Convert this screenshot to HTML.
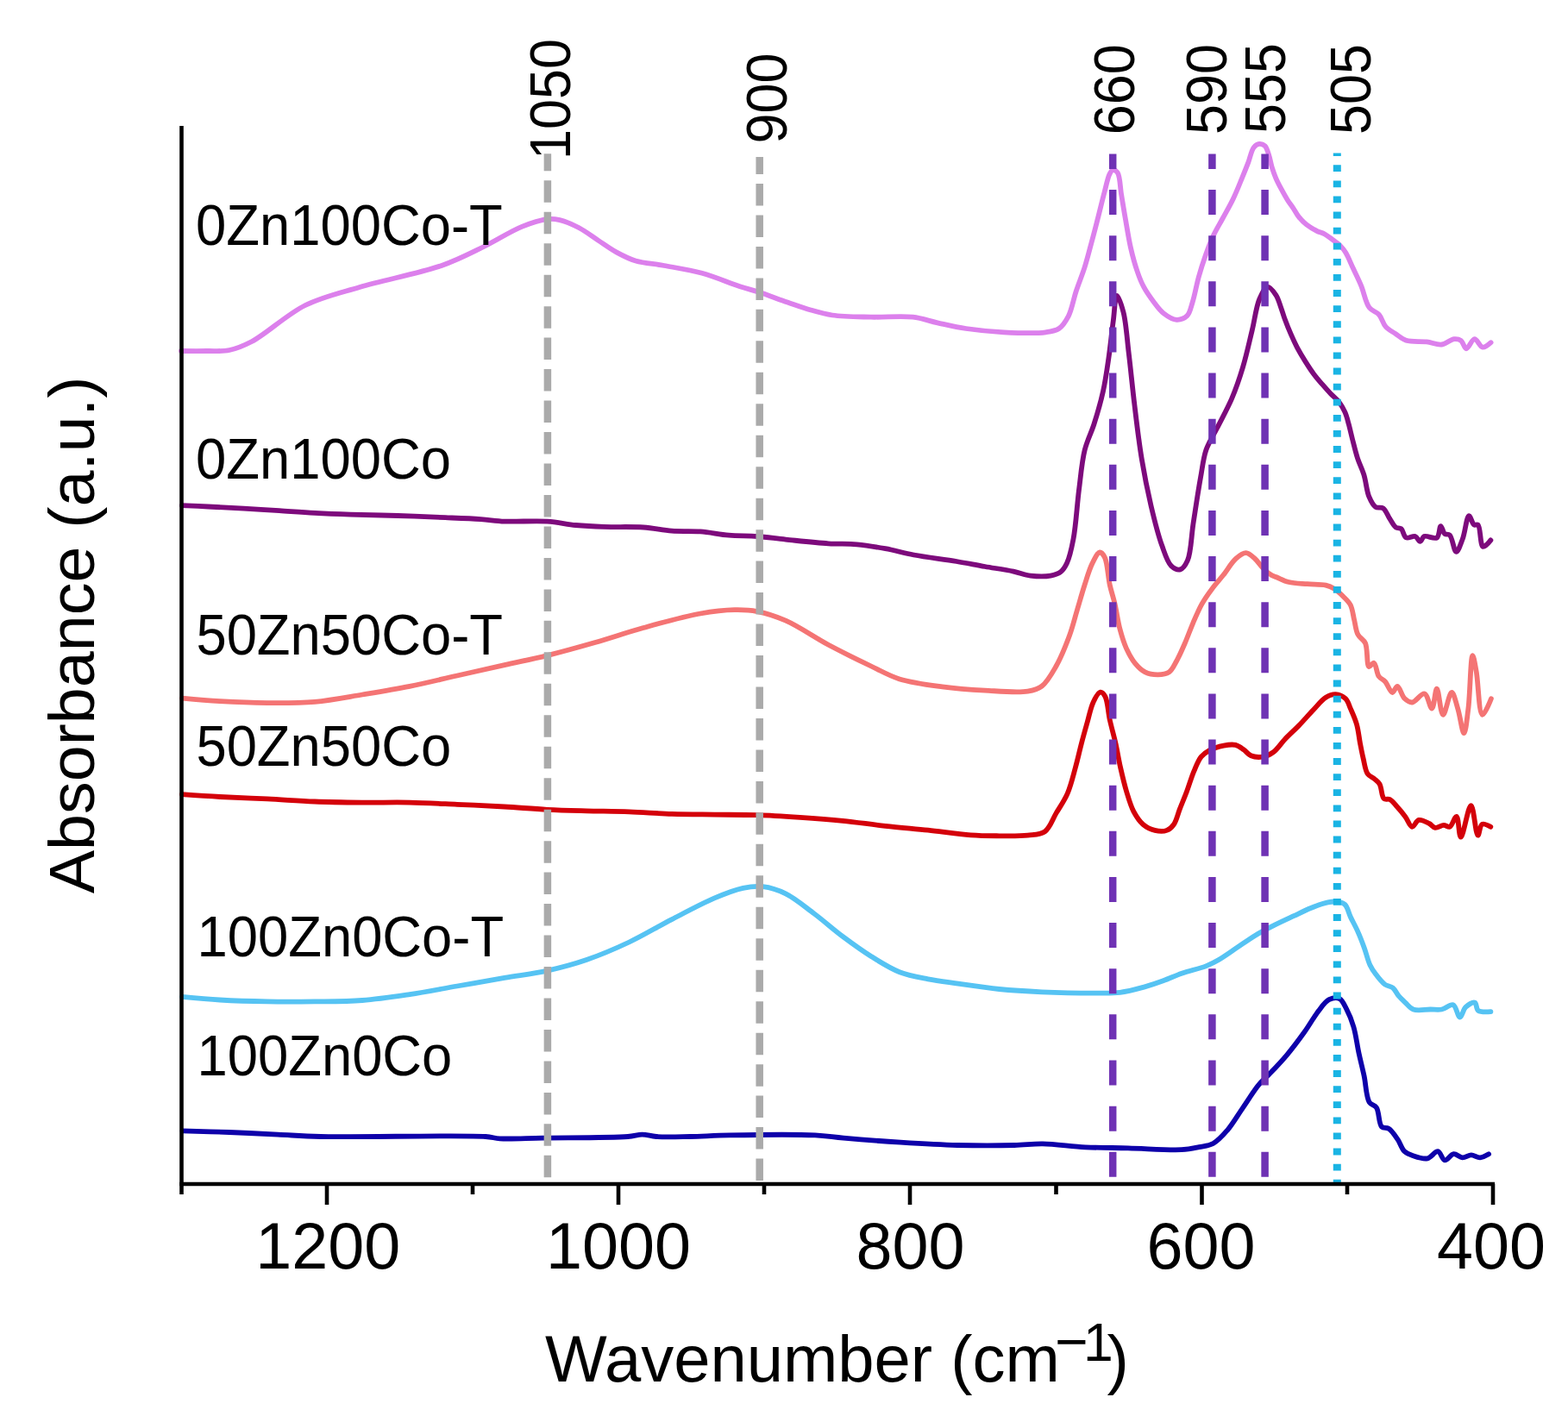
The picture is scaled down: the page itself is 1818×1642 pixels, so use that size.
<!DOCTYPE html>
<html><head><meta charset="utf-8"><title>FTIR spectra</title>
<style>html,body{margin:0;padding:0;background:#fff;width:1818px;height:1642px;overflow:hidden}svg{display:block}</style>
</head><body>
<svg width="1818" height="1642" viewBox="0 0 1818 1642">
<rect width="1818" height="1642" fill="#fff"/>
<g fill="none" stroke-width="5.8" stroke-linejoin="round" stroke-linecap="round">
<path stroke="#dc80ec" d="M210.0 407.0C210.0 407.0 230.4 407.2 240.0 407.0C249.0 406.8 257.5 407.8 266.0 406.0C274.8 404.2 281.8 401.3 292.0 396.0C308.7 387.3 332.5 364.6 354.0 354.0C374.3 344.0 393.7 339.9 417.0 333.0C445.3 324.6 485.8 317.2 512.0 308.0C531.3 301.2 545.2 293.7 561.0 286.0C576.2 278.6 591.5 268.4 605.0 262.9C615.6 258.6 626.5 255.0 634.7 254.1C640.3 253.5 643.8 254.0 649.0 255.2C655.7 256.7 663.8 260.3 671.0 264.0C678.5 267.9 685.7 273.5 693.0 278.3C700.3 283.1 707.5 288.5 715.0 292.6C722.2 296.5 728.7 300.0 737.0 302.5C746.7 305.4 758.2 305.8 770.0 308.0C783.6 310.5 799.5 312.8 814.0 316.8C828.8 320.9 845.8 328.2 858.0 332.2C866.6 335.0 872.0 336.2 880.0 338.8C889.9 342.0 902.5 346.9 913.0 350.5C922.4 353.7 931.1 357.0 940.0 359.5C948.4 361.9 955.4 364.1 965.0 365.5C977.7 367.3 994.7 367.3 1010.0 367.7C1025.8 368.1 1044.5 366.1 1058.4 367.7C1069.3 368.9 1077.1 372.2 1087.0 374.3C1097.6 376.6 1108.2 379.2 1120.0 381.0C1133.6 383.0 1149.0 384.6 1164.0 385.3C1179.7 386.1 1200.8 386.9 1212.4 385.3C1219.0 384.4 1223.5 383.9 1227.8 381.0C1232.4 377.9 1235.7 372.5 1238.8 366.6C1242.7 359.0 1244.5 347.5 1247.6 338.0C1250.7 328.6 1254.6 319.3 1257.6 309.9C1260.5 300.8 1262.7 291.8 1265.2 282.5C1267.8 273.0 1270.3 263.3 1272.8 253.5C1275.4 243.5 1278.0 232.2 1280.5 223.0C1282.6 215.3 1284.2 206.2 1286.5 201.8C1287.7 199.5 1288.8 197.5 1290.3 197.2C1291.8 196.9 1294.3 198.2 1295.7 200.2C1298.7 204.4 1298.7 217.3 1300.2 226.1C1301.7 235.1 1303.1 243.9 1304.8 253.5C1306.7 264.1 1308.5 276.4 1310.9 287.0C1313.1 296.6 1315.7 306.3 1318.5 314.4C1320.8 321.2 1322.9 326.8 1326.1 332.7C1329.4 339.0 1334.2 345.6 1338.3 351.0C1341.8 355.6 1344.7 359.9 1349.0 363.2C1353.4 366.6 1359.4 370.6 1364.2 370.8C1368.4 371.0 1373.4 369.1 1376.4 366.2C1379.8 362.9 1380.6 357.0 1382.5 351.0C1385.2 342.7 1387.3 330.0 1390.0 320.5C1392.4 311.9 1394.9 304.1 1397.7 296.2C1400.5 288.4 1403.4 280.6 1406.8 273.3C1410.0 266.4 1413.8 260.3 1417.5 253.5C1421.4 246.2 1426.0 238.5 1429.7 230.7C1433.5 222.9 1436.9 214.1 1440.0 206.6C1442.7 200.1 1445.0 194.4 1447.3 188.4C1449.5 182.6 1450.8 174.6 1453.7 171.0C1455.5 168.7 1457.9 167.1 1460.1 166.9C1462.2 166.7 1464.8 167.6 1466.5 169.2C1468.7 171.2 1469.7 175.5 1471.0 179.2C1472.5 183.5 1473.3 189.1 1474.7 193.8C1476.1 198.2 1477.5 202.4 1479.3 206.6C1481.1 210.9 1483.4 215.2 1485.7 219.4C1488.0 223.7 1490.6 228.3 1493.0 232.2C1495.1 235.5 1497.3 238.2 1499.4 241.3C1501.6 244.6 1503.3 248.3 1505.8 251.4C1508.4 254.7 1511.5 257.8 1514.9 260.5C1518.5 263.3 1523.0 265.9 1526.8 267.8C1530.0 269.4 1533.0 269.9 1535.9 271.5C1539.0 273.2 1542.0 275.7 1545.0 277.9C1548.1 280.2 1551.6 282.6 1554.2 285.2C1556.5 287.5 1558.1 289.4 1560.0 292.5C1562.9 297.1 1565.8 304.5 1568.7 310.8C1571.8 317.5 1575.2 324.1 1578.2 331.4C1581.5 339.4 1583.3 351.1 1587.7 356.8C1590.8 360.8 1595.7 361.3 1598.8 364.7C1602.2 368.5 1603.3 375.1 1606.7 378.9C1609.8 382.4 1613.9 384.3 1617.8 386.9C1621.8 389.6 1625.3 393.1 1630.4 394.8C1636.9 396.9 1646.9 395.5 1654.2 396.4C1660.5 397.2 1666.2 400.2 1671.6 399.5C1676.7 398.9 1681.8 393.6 1685.9 393.2C1688.9 392.9 1691.6 393.3 1693.8 394.8C1696.5 396.6 1697.7 404.2 1700.1 404.3C1702.8 404.5 1706.4 393.3 1709.6 393.2C1712.7 393.1 1715.8 402.3 1719.1 402.7C1722.1 403.1 1728.6 397.2 1728.6 397.2"/>
<path stroke="#7d0a7c" d="M211.0 586.1C211.0 586.1 230.4 587.0 241.3 587.5C254.0 588.1 268.8 588.9 282.5 589.7C296.3 590.5 310.0 591.3 323.8 592.2C337.5 593.1 351.3 594.2 365.0 594.9C378.8 595.6 391.5 596.1 406.3 596.6C423.3 597.2 443.0 597.4 461.3 598.0C479.6 598.6 499.3 599.5 516.3 600.2C531.0 600.8 545.2 601.3 557.5 602.1C567.6 602.8 574.5 604.1 585.0 604.6C599.1 605.2 619.7 603.6 634.5 604.6C646.6 605.4 656.5 607.9 667.5 609.0C678.4 610.0 688.2 610.5 700.0 610.9C714.0 611.4 732.0 610.5 746.0 611.5C757.9 612.3 768.0 614.9 779.0 615.7C790.0 616.5 801.0 615.6 812.0 616.4C823.0 617.2 834.0 619.8 845.0 620.7C856.0 621.6 867.0 621.2 878.0 622.0C889.0 622.8 898.9 624.4 911.0 625.6C925.8 627.1 945.7 629.4 960.5 630.3C972.6 631.1 982.5 630.3 993.5 631.3C1004.5 632.3 1015.5 634.2 1026.5 636.2C1037.5 638.2 1047.3 641.2 1059.5 643.5C1074.3 646.3 1094.2 648.5 1109.0 651.0C1121.1 653.0 1131.0 655.1 1142.0 657.0C1153.0 658.9 1165.4 660.6 1175.0 662.6C1182.5 664.2 1187.9 666.7 1194.8 667.6C1202.2 668.5 1211.6 668.8 1218.0 667.6C1222.7 666.7 1226.8 665.5 1230.0 663.0C1233.1 660.6 1234.9 657.4 1237.0 653.0C1240.2 646.2 1242.4 636.1 1244.5 625.0C1247.5 609.4 1248.7 586.0 1251.0 568.0C1253.1 551.8 1254.3 535.4 1257.7 521.8C1260.5 510.6 1265.0 502.6 1268.4 492.0C1272.2 480.1 1276.2 466.5 1279.0 453.6C1281.8 440.9 1283.5 428.4 1285.4 415.3C1287.4 401.5 1289.0 385.5 1290.7 372.6C1292.2 361.8 1292.7 343.1 1295.0 342.8C1296.9 342.6 1300.4 354.0 1302.5 362.0C1305.7 374.4 1306.8 394.0 1308.9 411.0C1311.1 429.4 1312.9 448.8 1315.3 468.5C1317.8 489.3 1320.4 512.2 1323.8 532.5C1326.9 551.1 1330.4 568.7 1334.4 585.8C1338.2 602.0 1342.6 619.8 1347.2 632.6C1350.6 641.9 1353.3 651.7 1357.9 656.1C1361.0 659.0 1365.4 661.2 1368.5 660.4C1371.9 659.5 1374.7 654.9 1377.0 649.7C1381.0 640.5 1381.2 622.1 1383.5 607.1C1386.1 590.3 1389.2 569.3 1392.0 553.8C1394.2 541.8 1395.0 531.7 1398.4 521.8C1401.6 512.6 1406.6 505.4 1411.2 496.3C1416.5 485.7 1423.2 473.8 1428.2 462.1C1433.2 450.4 1437.2 438.6 1441.0 425.9C1445.1 412.4 1448.4 396.9 1451.7 383.3C1454.8 370.7 1456.3 356.1 1460.2 347.0C1462.9 340.8 1466.3 333.1 1469.7 332.7C1472.8 332.4 1476.9 338.5 1479.5 342.4C1482.2 346.5 1483.6 352.4 1485.3 357.0C1486.8 361.1 1487.6 364.3 1489.2 368.7C1491.3 374.4 1494.4 382.2 1497.0 388.2C1499.3 393.5 1501.3 397.8 1503.9 402.8C1506.8 408.2 1510.3 414.1 1513.6 419.4C1516.8 424.5 1520.0 429.5 1523.4 434.0C1526.5 438.2 1529.8 441.9 1533.1 445.7C1536.3 449.4 1539.5 453.0 1542.8 456.5C1546.0 459.9 1549.8 462.6 1552.6 466.2C1555.3 469.8 1557.6 473.8 1559.4 477.9C1561.3 482.1 1562.3 486.5 1563.6 491.3C1565.1 496.8 1566.4 502.8 1568.0 509.1C1569.8 516.1 1571.7 524.3 1574.0 531.4C1576.2 538.1 1579.3 543.8 1581.4 550.7C1583.8 558.5 1584.5 569.2 1587.3 575.9C1589.4 580.8 1591.6 585.7 1594.8 587.8C1597.3 589.5 1601.2 587.6 1603.7 589.3C1606.8 591.4 1608.6 597.4 1611.1 601.2C1613.5 604.8 1615.8 609.8 1618.5 611.6C1620.4 612.9 1622.7 611.8 1624.5 613.1C1626.9 615.0 1627.5 622.1 1630.4 623.5C1633.1 624.8 1638.0 621.1 1640.8 622.0C1643.3 622.8 1644.9 628.0 1646.7 627.9C1648.4 627.8 1648.9 623.0 1651.2 622.0C1654.5 620.6 1662.8 625.6 1666.0 623.5C1669.1 621.5 1668.8 610.2 1670.5 610.1C1671.9 610.0 1672.9 617.3 1675.0 619.0C1676.6 620.3 1679.2 618.9 1680.9 620.5C1684.1 623.4 1685.7 639.7 1688.3 639.8C1690.7 639.9 1693.6 630.8 1695.8 625.0C1698.7 617.5 1700.4 598.5 1703.2 598.2C1705.0 598.0 1706.8 607.3 1709.1 608.6C1710.5 609.4 1712.3 607.6 1713.6 608.6C1716.7 611.1 1716.1 632.8 1719.5 633.9C1721.8 634.7 1728.4 626.4 1728.4 626.4"/>
<path stroke="#f47474" d="M211.0 809.6C211.0 809.6 239.5 812.3 255.0 813.2C272.3 814.2 291.7 815.0 310.0 815.1C328.3 815.2 346.7 815.4 365.0 813.8C383.4 812.2 401.7 808.5 420.0 805.5C438.4 802.5 456.7 799.6 475.0 795.9C493.4 792.2 511.7 787.6 530.0 783.5C548.3 779.4 567.1 775.1 585.0 771.1C601.9 767.3 617.6 764.3 634.5 760.1C652.5 755.6 671.5 750.3 690.0 745.0C708.7 739.6 726.5 733.4 746.0 728.0C767.0 722.2 792.7 714.9 812.0 711.5C826.8 708.9 839.7 707.4 851.6 707.2C861.3 707.0 868.8 707.3 878.0 709.1C888.5 711.1 899.2 714.5 911.0 719.7C926.1 726.3 943.9 738.9 960.5 747.8C976.9 756.5 995.1 765.4 1010.0 772.5C1022.1 778.2 1030.6 783.6 1043.0 787.4C1057.6 791.9 1075.9 794.1 1092.5 796.3C1109.0 798.5 1125.5 799.7 1142.0 800.6C1158.5 801.5 1179.7 803.6 1191.6 801.6C1198.7 800.4 1203.0 799.4 1208.0 795.6C1214.3 790.8 1219.5 781.3 1224.5 772.5C1230.3 762.2 1235.8 748.4 1240.0 737.0C1243.7 726.9 1245.9 717.5 1248.8 707.7C1251.7 698.0 1254.5 687.8 1257.5 678.5C1260.3 669.8 1262.9 660.4 1266.3 653.6C1268.9 648.3 1272.3 640.8 1275.1 640.5C1277.1 640.3 1279.3 643.2 1280.9 646.3C1284.1 652.5 1284.6 668.8 1286.8 678.5C1288.6 686.5 1290.8 692.5 1292.6 700.4C1294.7 709.4 1296.1 720.6 1298.5 729.6C1300.6 737.5 1302.7 744.8 1305.8 751.6C1308.7 757.9 1312.0 764.3 1316.0 769.1C1319.5 773.3 1323.3 777.2 1327.7 779.4C1332.0 781.5 1337.6 782.3 1342.3 782.3C1346.8 782.3 1351.9 781.9 1355.5 779.4C1359.4 776.7 1361.4 771.3 1364.3 766.2C1367.8 759.9 1371.3 751.7 1374.5 744.3C1377.6 737.0 1380.2 729.6 1383.3 722.3C1386.5 714.9 1389.7 707.2 1393.5 700.4C1397.0 694.1 1401.0 688.5 1405.2 682.9C1409.3 677.3 1413.9 672.4 1418.4 666.8C1423.2 660.8 1427.9 652.2 1433.0 647.8C1436.8 644.5 1441.0 641.1 1444.7 641.2C1448.3 641.3 1451.7 645.0 1454.9 647.8C1458.5 651.0 1461.7 656.2 1465.1 659.5C1468.0 662.4 1471.1 665.1 1473.9 666.8C1476.0 668.1 1477.5 668.3 1480.0 669.3C1483.8 670.8 1488.9 673.7 1494.3 675.0C1500.6 676.6 1508.6 676.6 1515.8 677.2C1522.9 677.8 1531.5 677.2 1537.2 678.6C1541.3 679.6 1544.0 680.9 1547.2 682.9C1550.7 685.1 1554.1 688.4 1557.2 691.5C1560.3 694.6 1563.7 697.4 1565.8 701.5C1568.2 706.2 1568.7 712.9 1570.1 718.6C1571.5 724.3 1572.0 731.1 1574.4 735.8C1576.5 739.9 1580.9 741.3 1583.0 745.8C1586.0 752.4 1584.3 771.8 1587.3 773.0C1588.8 773.6 1591.4 768.2 1593.0 768.7C1595.5 769.4 1596.0 780.7 1598.7 784.4C1600.7 787.2 1603.6 787.7 1605.9 790.2C1608.9 793.5 1611.8 802.9 1614.4 803.0C1616.4 803.1 1618.2 795.8 1620.2 795.9C1622.9 796.1 1625.3 807.1 1628.7 810.2C1631.3 812.6 1634.1 814.7 1637.3 814.5C1641.5 814.2 1647.8 803.5 1651.6 804.5C1655.6 805.5 1657.9 821.9 1660.2 821.6C1662.8 821.3 1663.9 798.7 1665.9 798.7C1668.2 798.7 1670.1 828.6 1673.1 828.8C1675.9 829.0 1680.1 803.0 1683.1 803.0C1685.7 803.0 1688.0 814.7 1690.2 821.6C1692.9 830.0 1695.4 850.3 1697.4 850.2C1699.4 850.1 1700.9 833.0 1702.4 821.6C1704.5 805.0 1705.1 760.3 1707.4 760.1C1708.7 760.0 1710.3 771.0 1711.7 778.7C1714.0 791.3 1714.7 828.1 1718.8 828.8C1721.4 829.3 1728.9 810.2 1728.9 810.2"/>
<path stroke="#d4000a" d="M211.0 921.2C211.0 921.2 239.5 923.2 255.0 924.0C272.3 924.9 291.7 925.5 310.0 926.4C328.3 927.3 346.7 928.8 365.0 929.5C383.3 930.2 401.7 930.4 420.0 930.6C438.3 930.8 456.7 930.2 475.0 930.6C493.3 931.0 511.7 932.0 530.0 932.8C548.3 933.6 567.2 934.5 585.0 935.5C601.9 936.5 618.3 938.0 634.5 938.8C650.0 939.6 664.5 939.9 680.0 940.3C696.2 940.7 713.0 940.7 729.5 941.3C746.0 941.9 762.5 943.4 779.0 943.9C795.5 944.4 812.0 944.4 828.5 944.6C845.0 944.8 861.5 944.7 878.0 945.2C894.5 945.7 911.0 946.8 927.5 947.9C944.0 949.0 960.5 950.2 977.0 951.8C993.5 953.5 1010.0 956.0 1026.5 957.8C1043.0 959.6 1059.5 961.0 1076.0 962.7C1092.5 964.5 1110.6 967.2 1125.5 968.3C1137.6 969.2 1147.5 969.2 1158.5 969.3C1169.5 969.4 1182.0 969.7 1191.6 968.6C1199.1 967.7 1206.1 968.2 1211.4 964.4C1217.4 960.2 1220.3 950.2 1224.6 942.9C1229.1 935.4 1234.2 928.2 1237.8 919.8C1241.7 910.7 1244.2 899.8 1246.9 890.0C1249.5 880.7 1251.5 871.4 1253.8 862.5C1256.0 854.0 1258.3 845.9 1260.6 837.8C1262.9 829.9 1264.5 820.7 1267.5 814.4C1269.8 809.6 1273.1 803.0 1275.8 802.7C1277.7 802.5 1279.8 804.9 1281.3 807.5C1284.3 812.7 1284.8 825.9 1286.8 835.0C1288.9 844.2 1291.5 853.3 1293.6 862.5C1295.6 871.6 1297.0 880.9 1299.1 890.0C1301.2 899.2 1303.4 908.8 1306.0 917.5C1308.5 925.7 1310.8 934.2 1314.3 940.9C1317.4 946.7 1320.9 952.3 1325.3 956.0C1329.3 959.4 1334.3 961.8 1339.0 962.9C1343.5 964.0 1349.0 964.3 1352.8 962.9C1356.2 961.7 1358.7 959.2 1361.0 956.0C1364.1 951.7 1365.5 944.3 1367.9 938.1C1370.5 931.5 1373.4 924.6 1376.1 917.5C1378.9 910.0 1381.4 901.1 1384.4 894.1C1387.0 888.0 1389.2 881.8 1392.6 877.6C1395.4 874.2 1398.4 872.2 1402.3 870.1C1406.9 867.6 1413.5 865.6 1418.8 864.6C1423.5 863.7 1428.5 862.9 1432.5 863.9C1436.1 864.8 1439.1 867.3 1442.1 869.4C1445.1 871.5 1447.0 874.9 1450.4 876.3C1454.2 877.9 1459.7 878.3 1464.1 877.6C1468.4 876.9 1472.6 875.0 1476.5 872.1C1481.3 868.6 1485.2 862.0 1490.0 857.0C1495.0 851.8 1500.4 847.0 1505.7 841.6C1511.4 835.8 1517.4 828.7 1522.9 823.0C1527.8 817.9 1532.3 811.7 1537.2 808.8C1540.9 806.5 1544.8 805.0 1548.6 805.2C1552.5 805.4 1557.2 807.5 1560.1 810.2C1563.0 812.9 1563.9 817.3 1565.8 821.6C1568.2 827.0 1571.2 833.5 1573.0 840.0C1575.0 846.9 1575.7 855.1 1577.0 862.0C1578.2 868.0 1579.1 873.2 1580.5 879.0C1582.0 885.0 1582.8 893.2 1585.7 897.4C1587.8 900.4 1591.3 901.3 1593.7 903.4C1595.9 905.3 1598.0 906.6 1599.6 909.3C1602.0 913.3 1601.7 923.6 1604.6 926.1C1606.4 927.7 1609.3 926.0 1611.5 927.1C1614.3 928.5 1616.7 932.0 1619.4 935.0C1622.6 938.5 1626.3 942.9 1629.3 946.9C1632.2 950.8 1634.4 958.5 1637.2 958.8C1639.7 959.0 1641.9 951.6 1645.1 950.9C1648.5 950.1 1653.7 953.2 1657.0 954.9C1659.8 956.3 1661.3 959.4 1664.0 959.8C1666.9 960.3 1670.9 956.8 1673.9 956.8C1676.4 956.8 1678.7 959.6 1680.8 958.8C1683.8 957.7 1686.7 946.5 1688.7 946.9C1691.4 947.4 1691.4 970.6 1693.7 970.7C1696.6 970.9 1702.2 934.0 1705.5 934.1C1708.7 934.2 1710.9 968.5 1713.5 968.7C1715.1 968.8 1715.6 957.2 1718.4 955.8C1720.8 954.6 1728.3 958.8 1728.3 958.8"/>
<path stroke="#56c3f3" d="M211.0 1155.9C211.0 1155.9 239.5 1158.6 255.0 1159.5C272.3 1160.5 291.7 1161.1 310.0 1161.4C328.3 1161.7 346.7 1161.6 365.0 1161.4C383.3 1161.2 401.7 1161.4 420.0 1160.0C438.4 1158.6 456.7 1155.8 475.0 1153.1C493.4 1150.3 511.7 1146.7 530.0 1143.5C548.3 1140.3 567.1 1137.0 585.0 1133.9C601.9 1131.0 618.4 1129.2 634.5 1125.6C650.1 1122.1 664.7 1118.3 680.0 1113.0C696.3 1107.4 713.2 1100.2 729.5 1092.5C746.2 1084.6 762.4 1074.6 779.0 1066.1C795.4 1057.6 813.5 1047.8 828.5 1041.4C840.4 1036.3 851.3 1031.9 861.5 1029.8C869.8 1028.1 876.7 1027.3 884.6 1028.2C893.2 1029.2 902.1 1032.0 911.0 1036.4C921.8 1041.7 933.1 1051.4 944.0 1059.5C955.1 1067.8 965.9 1077.6 977.0 1085.9C987.9 1094.0 998.8 1102.0 1010.0 1109.0C1020.8 1115.7 1031.7 1122.8 1043.0 1127.2C1053.7 1131.4 1064.9 1133.2 1076.0 1135.4C1086.9 1137.6 1096.9 1138.7 1109.0 1140.4C1123.8 1142.5 1142.0 1145.3 1158.5 1147.0C1175.0 1148.6 1190.6 1149.5 1208.0 1150.3C1227.5 1151.2 1253.3 1151.6 1270.0 1151.6C1281.4 1151.6 1289.1 1152.1 1298.6 1150.9C1308.2 1149.7 1318.4 1146.8 1327.2 1144.4C1334.9 1142.2 1341.6 1139.9 1348.7 1137.3C1355.9 1134.7 1362.4 1131.4 1370.1 1128.7C1378.9 1125.6 1390.9 1123.2 1398.7 1120.1C1404.4 1117.8 1407.9 1116.0 1413.0 1113.0C1419.5 1109.2 1427.3 1103.5 1434.5 1098.7C1441.6 1093.9 1448.7 1088.7 1455.9 1084.4C1463.0 1080.2 1470.1 1076.6 1477.4 1072.9C1484.8 1069.2 1492.7 1065.6 1500.0 1062.2C1506.8 1059.0 1513.1 1055.7 1519.8 1053.0C1526.3 1050.4 1534.0 1047.5 1539.6 1046.4C1543.6 1045.6 1546.8 1045.2 1550.2 1045.7C1553.4 1046.2 1556.9 1046.7 1559.4 1049.0C1562.6 1051.9 1563.6 1058.7 1566.0 1063.6C1568.5 1068.8 1571.4 1073.8 1573.9 1079.4C1576.7 1085.6 1579.4 1092.6 1581.8 1099.2C1584.2 1105.8 1585.8 1113.5 1588.4 1119.0C1590.4 1123.2 1592.4 1126.1 1595.0 1129.6C1598.0 1133.6 1601.9 1138.8 1605.6 1141.5C1608.6 1143.6 1612.3 1143.3 1614.9 1145.4C1617.7 1147.6 1619.1 1151.8 1621.5 1154.7C1623.9 1157.5 1626.6 1160.0 1629.4 1162.6C1632.3 1165.3 1634.6 1169.0 1638.6 1170.5C1643.7 1172.4 1652.5 1170.5 1658.4 1170.5C1663.2 1170.5 1667.3 1171.3 1671.6 1170.5C1676.1 1169.6 1681.3 1164.0 1684.8 1165.2C1688.5 1166.5 1690.2 1179.7 1692.7 1179.7C1695.0 1179.7 1696.3 1170.8 1699.3 1167.9C1702.1 1165.2 1707.5 1161.7 1709.9 1162.6C1712.2 1163.4 1711.4 1170.0 1713.9 1171.8C1717.0 1174.0 1728.4 1173.1 1728.4 1173.1"/>
<path stroke="#0e00aa" d="M211.6 1311.4C211.6 1311.4 247.7 1312.3 266.0 1313.0C284.5 1313.7 303.9 1314.7 322.0 1315.6C339.0 1316.4 349.7 1317.5 371.6 1318.0C414.6 1319.0 534.1 1316.0 563.0 1318.0C571.5 1318.6 572.5 1319.9 579.5 1320.3C591.6 1321.1 609.7 1319.9 629.0 1319.6C656.3 1319.2 708.9 1319.5 728.0 1318.0C735.9 1317.4 739.1 1315.6 744.6 1315.6C750.1 1315.6 754.3 1317.5 761.0 1318.0C771.2 1318.7 786.5 1318.2 800.0 1318.0C814.7 1317.7 827.8 1316.7 846.0 1316.4C872.7 1315.9 920.9 1315.2 945.0 1316.4C959.0 1317.1 965.1 1318.6 978.0 1319.7C996.2 1321.3 1022.0 1323.3 1044.0 1324.7C1066.0 1326.1 1088.0 1327.5 1110.0 1328.0C1132.0 1328.5 1157.8 1328.5 1176.0 1328.0C1188.9 1327.7 1196.9 1326.1 1209.0 1326.3C1223.8 1326.5 1242.0 1329.5 1258.5 1330.3C1275.0 1331.1 1290.6 1330.9 1308.0 1331.3C1327.5 1331.8 1355.0 1334.1 1370.0 1333.2C1378.6 1332.7 1383.9 1331.4 1390.3 1330.1C1396.1 1328.9 1401.5 1328.8 1406.6 1326.0C1412.5 1322.8 1417.6 1316.9 1422.9 1310.8C1429.2 1303.5 1435.1 1293.1 1441.2 1284.3C1447.3 1275.5 1453.7 1264.8 1459.5 1257.9C1463.7 1252.8 1467.2 1250.4 1471.7 1245.6C1477.7 1239.3 1485.5 1231.2 1492.1 1223.3C1499.1 1215.0 1506.1 1205.6 1512.4 1196.8C1518.3 1188.6 1523.4 1179.1 1528.7 1172.4C1532.8 1167.1 1536.4 1161.4 1540.9 1159.2C1544.6 1157.4 1549.8 1156.5 1553.1 1158.1C1556.7 1159.8 1558.8 1165.6 1561.3 1170.3C1564.4 1176.1 1567.2 1183.1 1569.4 1190.7C1572.1 1199.7 1573.4 1211.4 1575.5 1221.2C1577.5 1230.4 1579.6 1238.5 1581.6 1247.7C1583.7 1257.5 1583.9 1272.2 1587.7 1278.2C1589.9 1281.6 1593.7 1281.1 1595.9 1284.3C1599.2 1289.1 1598.4 1303.2 1602.0 1306.7C1604.1 1308.8 1607.5 1307.1 1610.1 1308.7C1613.7 1310.9 1617.3 1316.5 1620.3 1320.9C1623.4 1325.3 1624.9 1331.9 1628.4 1335.2C1631.3 1337.9 1634.7 1339.0 1638.6 1340.3C1643.3 1341.9 1650.0 1344.3 1654.9 1343.3C1659.5 1342.4 1663.7 1334.7 1667.1 1335.2C1670.4 1335.7 1672.1 1345.0 1675.2 1345.4C1678.2 1345.8 1681.9 1338.6 1685.4 1338.2C1688.7 1337.8 1692.2 1342.1 1695.6 1342.3C1699.0 1342.5 1702.4 1339.3 1705.8 1339.3C1709.2 1339.3 1712.6 1342.5 1716.0 1342.3C1719.4 1342.1 1726.1 1338.2 1726.1 1338.2"/>
</g>
<g fill="none">
<path stroke="#aaaaaa" stroke-width="8.5" stroke-dasharray="25.5 10.97" stroke-dashoffset="5.4" d="M634.9 178.2V1371"/>
<path stroke="#aaaaaa" stroke-width="8.5" stroke-dasharray="25.5 10.97" stroke-dashoffset="5.4" d="M880.7 181.9V1371"/>
<path stroke="#6f32b4" stroke-width="8.5" stroke-dasharray="29 24.13" stroke-dashoffset="11.6" d="M1290.2 178.5V1371"/>
<path stroke="#6f32b4" stroke-width="8.5" stroke-dasharray="29 24.13" stroke-dashoffset="11.6" d="M1405.4 178.5V1371"/>
<path stroke="#6f32b4" stroke-width="8.5" stroke-dasharray="29 24.13" stroke-dashoffset="11.6" d="M1466.6 178.5V1371"/>
<path stroke="#1ab4e4" stroke-width="9" stroke-dasharray="7.8 10.3" stroke-dashoffset="4.3" d="M1550.3 177.5V1371"/>
</g>
<g stroke="#000" stroke-width="4.6" fill="none">
<path d="M210.5 146V1385"/>
<path d="M208.2 1373H1733"/>
<path d="M379.0 1373V1397"/>
<path d="M717.0 1373V1397"/>
<path d="M1055.0 1373V1397"/>
<path d="M1393.5 1373V1397"/>
<path d="M1731.0 1373V1397"/>
<path d="M548.0 1373V1385"/>
<path d="M886.0 1373V1385"/>
<path d="M1224.5 1373V1385"/>
<path d="M1562.0 1373V1385"/>
</g>
<g font-family="'Liberation Sans', Arial, sans-serif" fill="#000">
<text transform="translate(227.1 284) scale(0.96 1)" font-size="66">0Zn100Co-T</text>
<text transform="translate(227.1 555) scale(0.96 1)" font-size="66">0Zn100Co</text>
<text transform="translate(227.4 759) scale(0.96 1)" font-size="66">50Zn50Co-T</text>
<text transform="translate(227.4 888) scale(0.96 1)" font-size="66">50Zn50Co</text>
<text transform="translate(228.5 1109) scale(0.96 1)" font-size="66">100Zn0Co-T</text>
<text transform="translate(228.5 1247) scale(0.96 1)" font-size="66">100Zn0Co</text>
<text x="380.3" y="1471" font-size="75.5" text-anchor="middle">1200</text>
<text x="717" y="1471" font-size="75.5" text-anchor="middle">1000</text>
<text x="1055.5" y="1471" font-size="75.5" text-anchor="middle">800</text>
<text x="1392.6" y="1471" font-size="75.5" text-anchor="middle">600</text>
<text x="1729" y="1471" font-size="75.5" text-anchor="middle">400</text>
<text transform="translate(660.5 185) rotate(-90) scale(0.953 1)" font-size="66">1050</text>
<text transform="translate(912 166.5) rotate(-90) scale(0.953 1)" font-size="66">900</text>
<text transform="translate(1315.2 156.3) rotate(-90) scale(0.953 1)" font-size="66">660</text>
<text transform="translate(1421.5 156) rotate(-90) scale(0.953 1)" font-size="66">590</text>
<text transform="translate(1490 155) rotate(-90) scale(0.953 1)" font-size="66">555</text>
<text transform="translate(1588.6 156) rotate(-90) scale(0.953 1)" font-size="66">505</text>
<text transform="translate(109 736.4) rotate(-90) scale(1.006 1)" font-size="75" text-anchor="middle">Absorbance (a.u.)</text>
<text x="632" y="1602.4" font-size="76">Wavenumber (cm<tspan x="1223.3" y="1578.3" font-size="66">−</tspan><tspan x="1256" y="1578.3" font-size="62.5">1</tspan><tspan x="1283.5" y="1602.4">)</tspan></text>
</g>
</svg>
</body></html>
